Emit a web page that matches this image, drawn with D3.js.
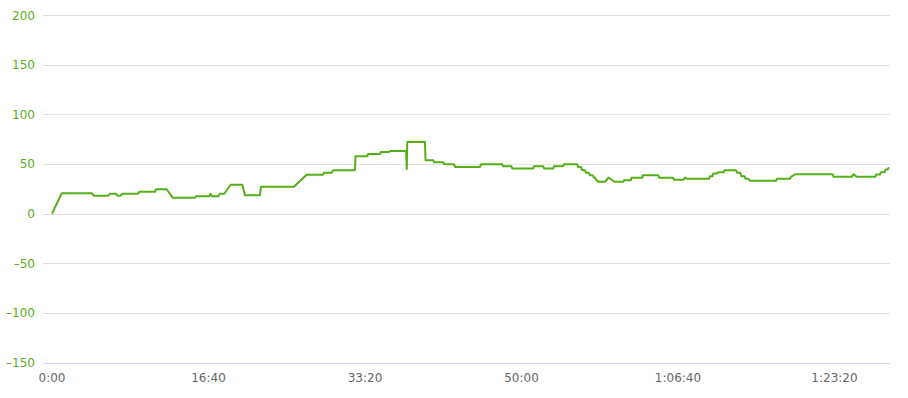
<!DOCTYPE html>
<html>
<head>
<meta charset="utf-8">
<script src="https://cdn.jsdelivr.net/npm/d3@7"></script>
<style>
  body { margin: 0; background: #fff; }
  svg { display: block; font-family: "DejaVu Sans", sans-serif; }
</style>
</head>
<body>
<svg id="chart" width="908" height="398"></svg>
<script>
// elapsed time in seconds
const times = [
  0, 62, 254, 268, 360, 371, 407, 420, 438, 449, 548, 560, 658, 665, 733, 771,
  914, 920, 1005, 1013, 1022, 1063, 1073, 1101, 1142, 1216, 1233, 1329, 1335, 1546, 1627, 1730,
  1738, 1787, 1796, 1936, 1939, 2015, 2019, 2096, 2102, 2153, 2160, 2263, 2267, 2270, 2383, 2387,
  2436, 2441, 2500, 2505, 2569, 2575, 2735, 2741, 2877, 2882, 2936, 2941, 3075, 3080, 3139, 3144,
  3203, 3208, 3265, 3272, 3342, 3355, 3362, 3380, 3387, 3405, 3412, 3430, 3438, 3455, 3463, 3470,
  3478, 3491, 3534, 3555, 3594, 3651, 3655, 3698,
  3703, 3772, 3776, 3874, 3879, 3970, 3974, 4034, 4045, 4059, 4198, 4204, 4220, 4226, 4250, 4256,
  4290, 4297, 4371, 4378, 4398, 4405, 4425, 4432, 4450, 4458, 4626, 4633, 4716, 4722, 4748, 4988,
  4994, 5110, 5121, 5142, 5248, 5262, 5266, 5290, 5296, 5320, 5326, 5340, 5345, 5350
];
const values = [
  0, 20.5, 20.5, 18, 18, 20, 20, 18, 18, 20, 20, 22, 22, 24.5, 24.5, 16,
  16, 17.5, 17.5, 20, 17.5, 17.5, 20, 20, 29, 29, 18.5, 18.5, 27, 27, 39, 39,
  41, 41, 43.7, 43.7, 57.8, 57.8, 60, 60, 62, 62, 63, 63, 45, 72, 72, 53.7,
  53.7, 51.7, 51.7, 49.7, 49.7, 47, 47, 49.7, 49.7, 47.7, 47.7, 45.4, 45.4, 47.7, 47.7, 45.4,
  45.4, 47.7, 47.7, 49.7, 49.7, 49.7, 47, 47, 43.7, 43.7, 41, 41, 38.5, 38.5, 36, 36,
  34, 32, 32, 36.3, 32, 32, 33.6, 33.6,
  36, 36, 38.6, 38.6, 36, 36, 34, 34, 36.3, 35, 35, 37.6, 37.6, 40.3, 40.3, 41.6,
  41.6, 43.7, 43.7, 41, 41, 37.6, 37.6, 35, 35, 33, 33, 35, 35, 37, 39.6, 39.6,
  37, 37, 39.6, 37, 37, 37, 39.3, 39.3, 41.6, 41.6, 44.4, 44.4, 46, 46
];
const yTicks = [-150, -100, -50, 0, 50, 100, 150, 200];
const xTicks = [0, 1000, 2000, 3000, 4000, 5000];

const data = times.map((t, i) => ({ t: t, v: values[i] }));

const svg = d3.select("#chart");
const plotLeft = 43, plotRight = 890;

const x = d3.scaleLinear().domain([0, 5000]).range([52, 834.5]);
const y = d3.scaleLinear().domain([-150, 200]).range([362.5, 15]);

function fmtTime(s) {
  const h = Math.floor(s / 3600), m = Math.floor((s % 3600) / 60), sec = s % 60;
  const pad = n => String(n).padStart(2, "0");
  return h > 0 ? `${h}:${pad(m)}:${pad(sec)}` : `${m}:${pad(sec)}`;
}

// grid
svg.append("g")
  .selectAll("line")
  .data(yTicks.filter(d => d !== -150))
  .join("line")
  .attr("x1", plotLeft).attr("x2", plotRight)
  .attr("y1", d => Math.round(y(d)) + 0.5).attr("y2", d => Math.round(y(d)) + 0.5)
  .attr("stroke", "#e0e0e0").attr("stroke-width", 1);

// bottom axis line
svg.append("line")
  .attr("x1", plotLeft).attr("x2", plotRight)
  .attr("y1", Math.round(y(-150)) + 0.5).attr("y2", Math.round(y(-150)) + 0.5)
  .attr("stroke", "#ccd6eb");

// y labels
svg.append("g")
  .selectAll("text")
  .data(yTicks)
  .join("text")
  .attr("x", 35)
  .attr("y", d => y(d) + 4.5)
  .attr("text-anchor", "end")
  .attr("fill", "#58ad18")
  .style("font-size", "12px")
  .text(d => d < 0 ? "\u2013" + Math.abs(d) : d);

// x labels
svg.append("g")
  .selectAll("text")
  .data(xTicks)
  .join("text")
  .attr("x", d => x(d))
  .attr("y", 382)
  .attr("text-anchor", "middle")
  .attr("fill", "#666")
  .style("font-size", "12px")
  .text(d => fmtTime(d));

const line = d3.line()
  .x(d => x(d.t))
  .y(d => y(d.v));

svg.append("path")
  .datum(data)
  .attr("fill", "none")
  .attr("stroke", "#55ae18")
  .attr("stroke-width", 2)
  .attr("stroke-linejoin", "round")
  .attr("d", line);
</script>
</body>
</html>
